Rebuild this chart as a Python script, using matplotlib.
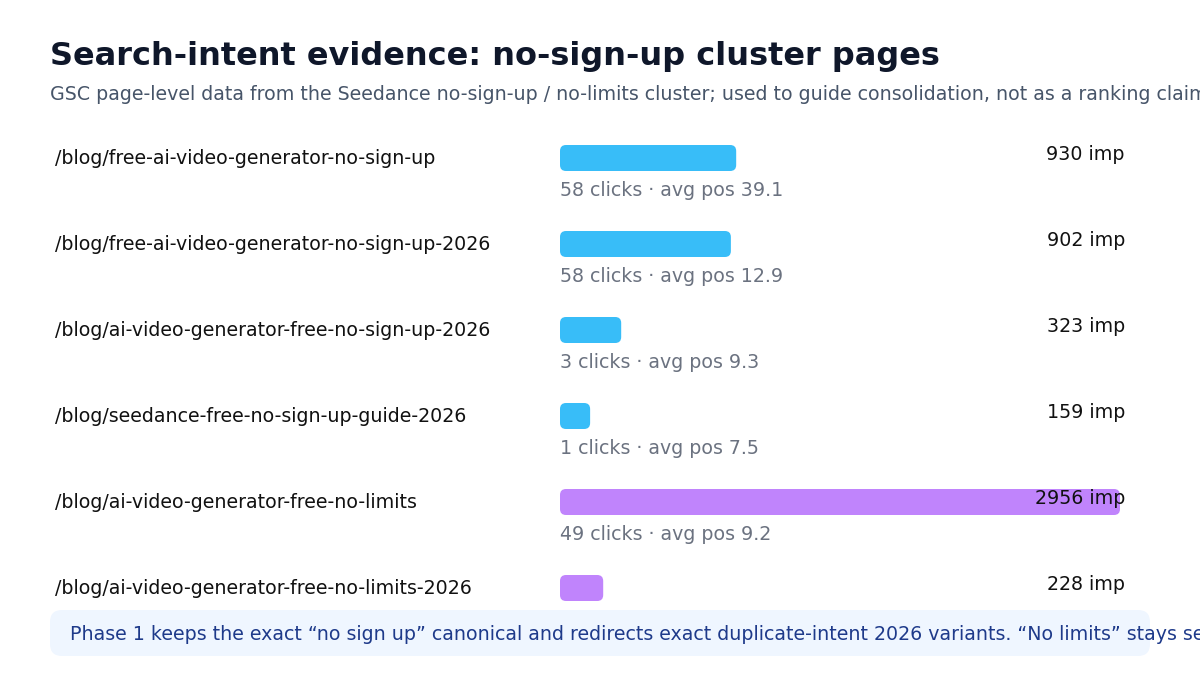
import matplotlib
matplotlib.use("Agg")
from matplotlib import pyplot as plt
from matplotlib.patches import FancyBboxPatch
from matplotlib.transforms import blended_transform_factory

plt.rcParams["font.family"] = ["DejaVu Sans"]

pages = [
    "/blog/free-ai-video-generator-no-sign-up",
    "/blog/free-ai-video-generator-no-sign-up-2026",
    "/blog/ai-video-generator-free-no-sign-up-2026",
    "/blog/seedance-free-no-sign-up-guide-2026",
    "/blog/ai-video-generator-free-no-limits",
    "/blog/ai-video-generator-free-no-limits-2026",
]
impressions = [930, 902, 323, 159, 2956, 228]
clicks = [58, 58, 3, 1, 49, None]
avg_pos = [39.1, 12.9, 9.3, 7.5, 9.2, None]
groups = ["sign-up", "sign-up", "sign-up", "sign-up", "limits", "limits"]

colors = {"sign-up": "#38bdf8", "limits": "#c084fc"}

W, H = 1200, 700
fig = plt.figure(figsize=(12, 7), dpi=100)
fig.patch.set_facecolor("white")

# axes spanning the bar area: x 560..1120 px, rows 86 px apart
n = len(pages)
row_px = 86
top_px = 158 - row_px / 2
ax = fig.add_axes([560 / W, 1 - (top_px + n * row_px) / H, 560 / W, n * row_px / H])
xmax = max(impressions)
ax.set_xlim(0, xmax)
ax.set_ylim(n - 0.5, -0.5)
ax.axis("off")

bar_h = 26 / row_px
r_px = 6
x_per_px = xmax / 560
y_per_px = 1 / row_px
rs = r_px * x_per_px
aspect = y_per_px / x_per_px

label_tr = blended_transform_factory(fig.transFigure, ax.transData)
fs = 13.7

for i, (page, imp) in enumerate(zip(pages, impressions)):
    bar = FancyBboxPatch((0, i - bar_h / 2), imp, bar_h,
                         boxstyle=f"round,pad=0,rounding_size={rs}",
                         mutation_aspect=aspect,
                         facecolor=colors[groups[i]], edgecolor="none")
    ax.add_patch(bar)
    ax.text(55 / W, i, page, transform=label_tr, ha="left", va="center",
            fontsize=fs, color="#111111")
    ax.text(1125 / W, i - 0.04, f"{imp} imp", transform=label_tr, ha="right",
            va="center", fontsize=fs, color="#111111", zorder=5)
    if clicks[i] is not None:
        ax.text(0, i + 32 / row_px, f"{clicks[i]} clicks · avg pos {avg_pos[i]}",
                ha="left", va="center", fontsize=fs, color="#6b7280")

fig.text(50 / W, 1 - 57 / H, "Search-intent evidence: no-sign-up cluster pages",
         fontsize=23, fontweight="bold", color="#0f172a", ha="left", va="center")
fig.text(50 / W, 1 - 94 / H,
         "GSC page-level data from the Seedance no-sign-up / no-limits cluster; "
         "used to guide consolidation, not as a ranking claim.",
         fontsize=fs, color="#475569", ha="left", va="center")

note = FancyBboxPatch((50 / W, 1 - 656 / H), 1100 / W, 46 / H,
                      boxstyle=f"round,pad=0,rounding_size={12 / W}",
                      mutation_aspect=W / H,
                      transform=fig.transFigure, facecolor="#eff6ff",
                      edgecolor="none", zorder=10)
fig.add_artist(note)
fig.text(70 / W, 1 - 634 / H,
         "Phase 1 keeps the exact “no sign up” canonical and redirects exact "
         "duplicate-intent 2026 variants. “No limits” stays separate.",
         fontsize=fs, color="#1e3a8a", ha="left", va="center", zorder=11)

fig.savefig("out.png", dpi=100)
